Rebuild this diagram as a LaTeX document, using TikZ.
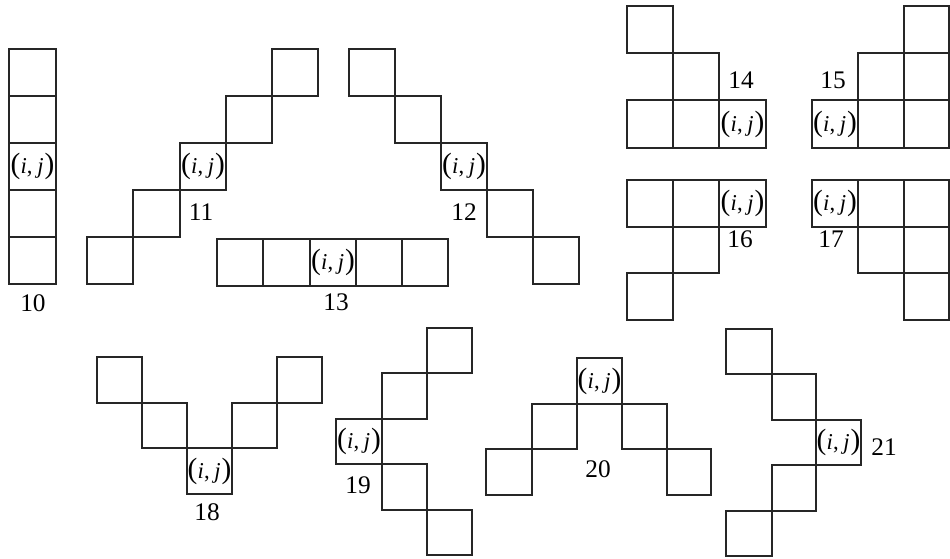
\documentclass[tikz,border=0pt]{standalone}
\usepackage{fontspec}
\setmainfont{Liberation Serif}
\newcommand\bigpar[1]{{\fontsize{22}{22}\selectfont #1}}
\newcommand\ijtxt{\bigpar{(}\kern0.3pt\textit{i},\kern3.5pt\textit{j}\kern0.8pt\bigpar{)}}
\tikzset{
  cellline/.style={draw=black!85, line width=1.2pt},
  ijlab/.style={inner sep=0pt, font=\fontsize{17}{17}\selectfont},
  numlab/.style={inner sep=0pt, font=\fontsize{19}{19}\selectfont}
}
\begin{document}
\begin{tikzpicture}[x=0.75pt, y=-0.75pt]
\useasboundingbox (0,0) rectangle (950,559);
\fill[white] (0,0) rectangle (950,559);
\begin{scope}[cellline]
% 10
\draw (9,49) rectangle (56,96);
\draw (9,96) rectangle (56,143);
\draw (9,143) rectangle (56,190);
\draw (9,190) rectangle (56,237);
\draw (9,237) rectangle (56,284);
% 11
\draw (87,237) rectangle (133,284);
\draw (133,190) rectangle (180,237);
\draw (180,143) rectangle (226,190);
\draw (226,96) rectangle (272,143);
\draw (272,49) rectangle (318,96);
% 12
\draw (349,49) rectangle (395,96);
\draw (395,96) rectangle (441,143);
\draw (441,143) rectangle (487,190);
\draw (487,190) rectangle (533,237);
\draw (533,237) rectangle (579,284);
% 13
\draw (217,239) rectangle (263,286);
\draw (263,239) rectangle (310,286);
\draw (310,239) rectangle (356,286);
\draw (356,239) rectangle (402,286);
\draw (402,239) rectangle (448,286);
% 14
\draw (627,6) rectangle (673,53);
\draw (673,53) rectangle (719,100);
\draw (627,100) rectangle (673,148);
\draw (673,100) rectangle (719,148);
\draw (719,100) rectangle (766,148);
% 15
\draw (904,6) rectangle (949,53);
\draw (858,53) rectangle (904,100);
\draw (904,53) rectangle (949,100);
\draw (812,100) rectangle (858,148);
\draw (858,100) rectangle (904,148);
\draw (904,100) rectangle (949,148);
% 16
\draw (627,180) rectangle (673,227);
\draw (673,180) rectangle (719,227);
\draw (719,180) rectangle (766,227);
\draw (673,227) rectangle (719,273);
\draw (627,273) rectangle (673,320);
% 17
\draw (812,180) rectangle (858,227);
\draw (858,180) rectangle (904,227);
\draw (904,180) rectangle (949,227);
\draw (858,227) rectangle (904,273);
\draw (904,227) rectangle (949,273);
\draw (904,273) rectangle (949,320);
% 18
\draw (97,357) rectangle (142,403);
\draw (142,403) rectangle (187,448);
\draw (187,448) rectangle (232,494);
\draw (232,403) rectangle (277,448);
\draw (277,357) rectangle (322,403);
% 19
\draw (427,328) rectangle (472,373);
\draw (382,373) rectangle (427,419);
\draw (336,419) rectangle (382,464);
\draw (382,464) rectangle (427,510);
\draw (427,510) rectangle (472,555);
% 20
\draw (577,358) rectangle (622,404);
\draw (532,404) rectangle (577,449);
\draw (622,404) rectangle (667,449);
\draw (486,449) rectangle (532,495);
\draw (667,449) rectangle (711,495);
% 21
\draw (726,329) rectangle (772,374);
\draw (772,374) rectangle (816,420);
\draw (816,420) rectangle (861,465);
\draw (772,465) rectangle (816,511);
\draw (726,511) rectangle (772,556);
\end{scope}
% (i,j) labels
\node[ijlab] (ij10) at (32.5,166.5) {\ijtxt};
\node[ijlab] (ij11) at (203,166.5) {\ijtxt};
\node[ijlab] (ij12) at (464,166.5) {\ijtxt};
\node[ijlab] (ij13) at (333,262.5) {\ijtxt};
\node[ijlab] (ij14) at (742.5,124) {\ijtxt};
\node[ijlab] (ij15) at (835,124) {\ijtxt};
\node[ijlab] (ij16) at (742.5,203.5) {\ijtxt};
\node[ijlab] (ij17) at (835,203.5) {\ijtxt};
\node[ijlab] (ij18) at (209.5,471) {\ijtxt};
\node[ijlab] (ij19) at (359,441.5) {\ijtxt};
\node[ijlab] (ij20) at (599.5,381) {\ijtxt};
\node[ijlab] (ij21) at (838.5,442.5) {\ijtxt};
% figure numbers
\node[numlab] (n10) at (33,303) {10};
\node[numlab] (n11) at (201,212) {11};
\node[numlab] (n12) at (464,212) {12};
\node[numlab] (n13) at (336,302) {13};
\node[numlab] (n14) at (741,80) {14};
\node[numlab] (n15) at (833,80) {15};
\node[numlab] (n16) at (740,239) {16};
\node[numlab] (n17) at (831,239) {17};
\node[numlab] (n18) at (207,512) {18};
\node[numlab] (n19) at (358,485) {19};
\node[numlab] (n20) at (598,469) {20};
\node[numlab] (n21) at (884,447) {21};
\end{tikzpicture}
\end{document}
